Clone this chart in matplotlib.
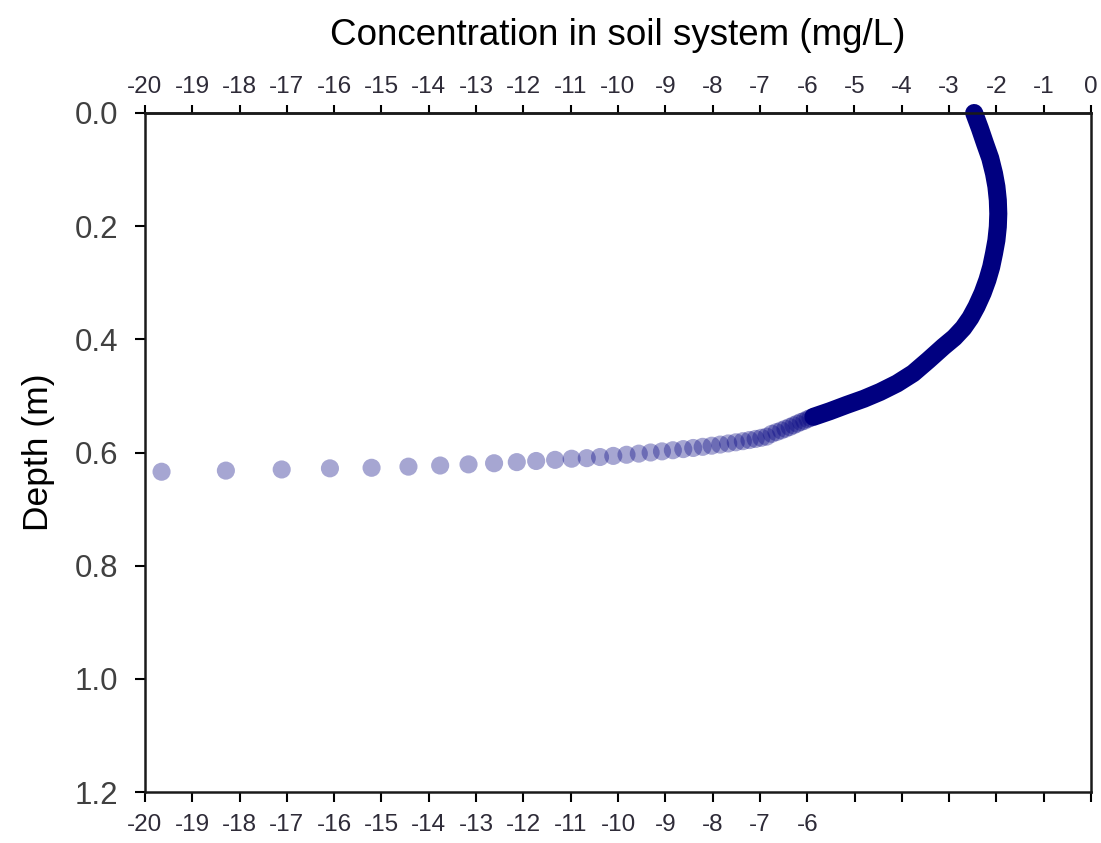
import matplotlib
matplotlib.use("Agg")
import matplotlib.pyplot as plt

plt.rcParams['font.family'] = ['Liberation Sans', 'DejaVu Sans']

# dense upper part of the profile (concentration mg/L, depth m)
conc_dense = [-2.47, -2.35, -2.24, -2.13, -2.05, -2.00, -1.97, -1.96, -1.97, -2.00,
              -2.05, -2.11, -2.19, -2.29, -2.42, -2.55, -2.70, -2.89, -3.12, -3.28,
              -3.44, -3.76, -4.10, -4.46, -4.80, -5.17, -5.52, -5.87]
depth_dense = [0.000, 0.027, 0.054, 0.080, 0.107, 0.130, 0.154, 0.178, 0.201, 0.225,
               0.248, 0.272, 0.295, 0.318, 0.342, 0.362, 0.380, 0.397, 0.413, 0.425,
               0.437, 0.460, 0.478, 0.493, 0.505, 0.516, 0.527, 0.537]

# individual points in the lower part
conc_pts = [-19.65, -18.29, -17.11, -16.09, -15.21, -14.43, -13.76, -13.16, -12.62, -12.14,
            -11.73, -11.33, -10.98, -10.66, -10.38, -10.10, -9.82, -9.56, -9.31, -9.07,
            -8.84, -8.62, -8.41, -8.21, -8.02, -7.84, -7.67, -7.51, -7.36, -7.22,
            -7.09, -6.97, -6.86, -6.75, -6.65, -6.55, -6.46, -6.37, -6.29, -6.21, -6.13,
            -6.06, -5.99, -5.93]
depth_pts = [0.634, 0.632, 0.630, 0.628, 0.627, 0.625, 0.623, 0.621, 0.619, 0.617,
             0.615, 0.613, 0.611, 0.610, 0.608, 0.606, 0.604, 0.602, 0.600, 0.598,
             0.596, 0.594, 0.592, 0.590, 0.588, 0.586, 0.584, 0.582, 0.580, 0.578,
             0.576, 0.574, 0.572, 0.567, 0.564, 0.561, 0.558, 0.555, 0.552, 0.549, 0.546,
             0.544, 0.541, 0.539]

x_ticks = list(range(-20, 1))
top_labels = [str(v) for v in x_ticks]
bottom_labels = [str(v) if v <= -6 else '' for v in x_ticks]
y_ticks = [0.0, 0.2, 0.4, 0.6, 0.8, 1.0, 1.2]
y_labels = ['0.0', '0.2', '0.4', '0.6', '0.8', '1.0', '1.2']

navy = '#000080'

fig = plt.figure(figsize=(11.01, 8.43), dpi=100)
ax = fig.add_axes([145/1101, 1 - 792/843, (1091-145)/1101, (792-113)/843])

ax.plot(conc_dense, depth_dense, color=navy, lw=13, solid_capstyle='round',
        solid_joinstyle='round', clip_on=False, zorder=2)
ax.scatter(conc_pts, depth_pts, s=170, color=navy, alpha=0.35, edgecolors='none',
           clip_on=False, zorder=3)

ax.set_xlim(-20, 0)
ax.set_ylim(1.2, 0.0)
ax.set_xticks(x_ticks)
ax.set_xticklabels(bottom_labels, fontsize=17.5, color='#2e2b38')
ax.set_yticks(y_ticks)
ax.set_yticklabels(y_labels, fontsize=22.5, color='#404040')
ax.tick_params(axis='x', direction='out', length=7, width=1.5, pad=9)
ax.tick_params(axis='y', direction='out', length=7, width=1.5, pad=12.5)

top = ax.secondary_xaxis('top')
top.set_xticks(x_ticks)
top.set_xticklabels(top_labels, fontsize=17.5, color='#2e2b38')
top.tick_params(direction='out', length=6, width=1.5, pad=5)
top.set_xlabel('Concentration in soil system (mg/L)', fontsize=26.5, labelpad=22)

for sp in list(ax.spines.values()) + [top.spines['top']]:
    sp.set_linewidth(1.8)
    sp.set_color('#1a1a1a')

ax.set_ylabel('Depth (m)', fontsize=25.5, labelpad=14)

fig.savefig('out.png', dpi=100)
